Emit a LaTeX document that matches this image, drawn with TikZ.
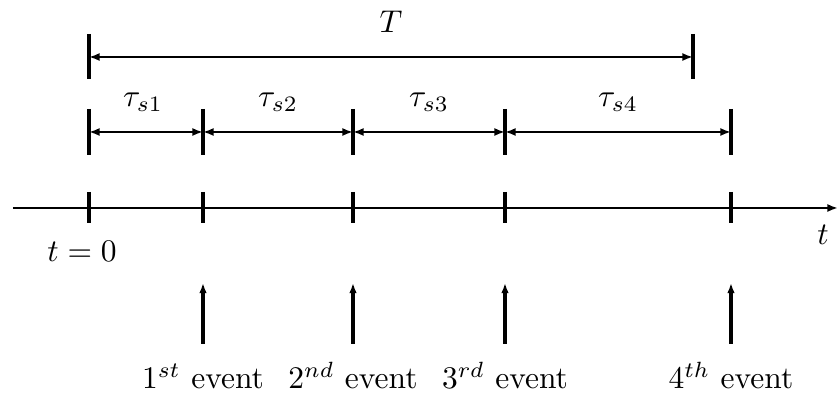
\documentclass[tikz,border=0pt]{standalone}
\usetikzlibrary{arrows.meta}
\begin{document}
\begin{tikzpicture}[x=0.3175pt,y=-0.3175pt,
  tickline/.style={line width=1.1pt},
  axisline/.style={line width=0.75pt},
  tip/.tip={Latex[length=3.4pt,width=2.6pt]},
  dimline/.style={line width=0.75pt,tip-tip},
  evarrow/.style={line width=1.05pt,-{Latex[length=3.2pt,width=2.4pt]}},
  lbl/.style={anchor=base,inner sep=0pt}]
\useasboundingbox (0,0) rectangle (838,407);
% T dimension
\coordinate (Ta1) at (89,34); \coordinate (Ta2) at (89,79);
\coordinate (Tb1) at (693,34); \coordinate (Tb2) at (693,79);
\coordinate (TL) at (89,57); \coordinate (TR) at (693,57);
\draw[tickline] (Ta1) -- (Ta2);
\draw[tickline] (Tb1) -- (Tb2);
\draw[dimline] (TL) -- (TR);
\node[lbl] (Tlab) at (391,33) {$T$};
% tau dimensions
\foreach \x [count=\i] in {89,203,353,505,731}{
  \coordinate (s\i a) at (\x,109);
  \coordinate (s\i b) at (\x,155);
  \coordinate (s\i m) at (\x,132);
  \draw[tickline] (s\i a) -- (s\i b);
}
\draw[dimline] (s1m) -- (s2m);
\draw[dimline] (s2m) -- (s3m);
\draw[dimline] (s3m) -- (s4m);
\draw[dimline] (s4m) -- (s5m);
\node[lbl] (tau1) at (143,107) {$\tau_{s1}$};
\node[lbl] (tau2) at (278,107) {$\tau_{s2}$};
\node[lbl] (tau3) at (429,107) {$\tau_{s3}$};
\node[lbl] (tau4) at (618,107) {$\tau_{s4}$};
% axis
\coordinate (A0) at (13,208); \coordinate (A1) at (838,208);
\draw[axisline,-{Latex[length=3.4pt,width=2.6pt]}] (A0) -- (A1);
\foreach \x [count=\i] in {89,203,353,505,731}{
  \coordinate (k\i a) at (\x,192);
  \coordinate (k\i b) at (\x,223);
  \draw[tickline] (k\i a) -- (k\i b);
}
\node[lbl] (t0) at (82,262) {$t=0$};
\node[lbl] (tlab) at (823,245) {$t$};
% events
\foreach \x/\s [count=\i] in {203/st,353/nd,505/rd,731/th}{
  \coordinate (e\i a) at (\x,344);
  \coordinate (e\i b) at (\x,283);
  \draw[evarrow] (e\i a) -- (e\i b);
  \node[lbl] (ev\i) at (\x,389) {$\i^{\s}$ event};
}
\end{tikzpicture}
\end{document}
